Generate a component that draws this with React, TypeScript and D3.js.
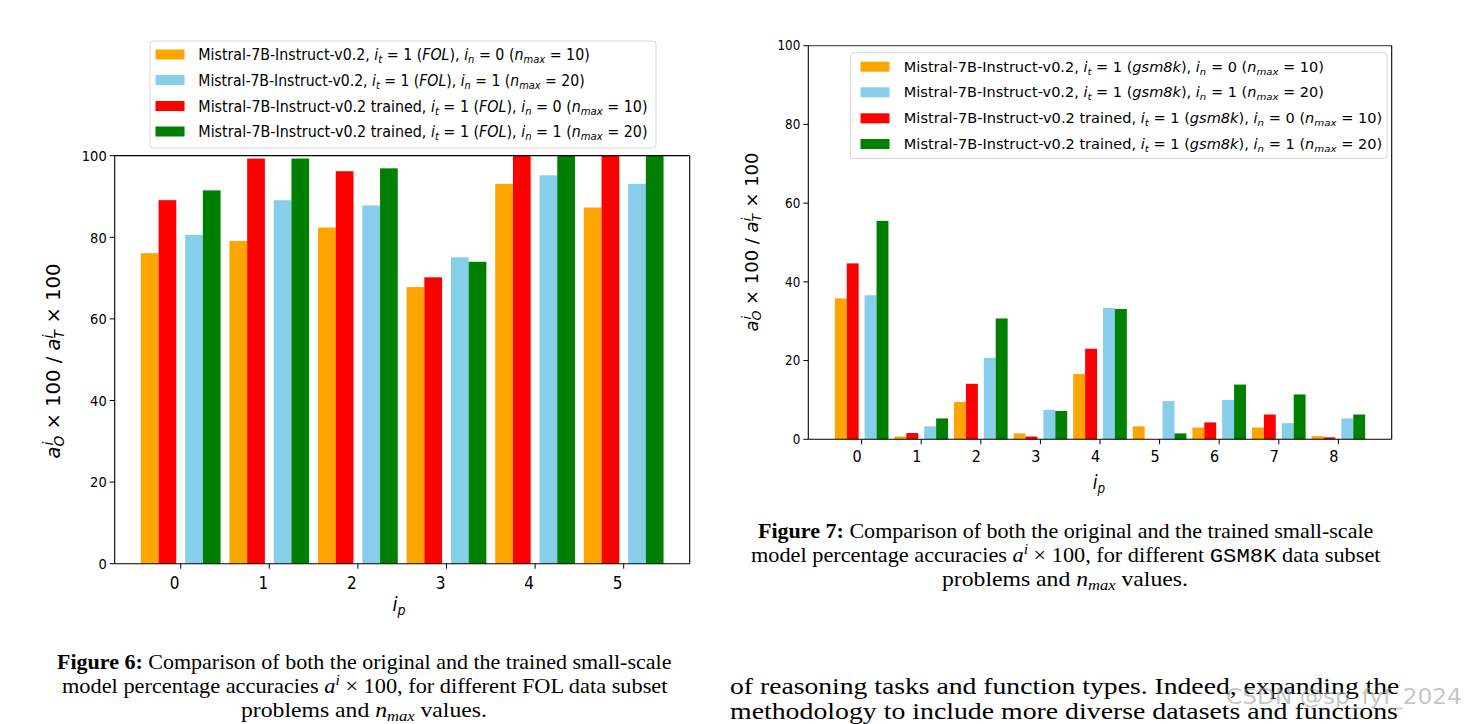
import React, { useLayoutEffect, useRef, useState } from 'react';
import * as d3 from 'd3';

// ---------- data ----------
const folProblems = [0, 1, 2, 3, 4, 5];
const folOriginal10 = [76.1, 79.1, 82.4, 67.8, 93.1, 87.3];
const folOriginal20 = [80.6, 89.1, 87.8, 75.1, 95.2, 93.1];
const folTrained10 = [89.1, 99.3, 96.2, 70.2, 100, 100];
const folTrained20 = [91.5, 99.3, 96.9, 74.0, 100, 100];

const gsmProblems = [0, 1, 2, 3, 4, 5, 6, 7, 8];
const gsmOriginal10 = [35.8, 0.7, 9.5, 1.5, 16.6, 3.3, 3.0, 3.0, 0.8];
const gsmOriginal20 = [36.6, 3.3, 20.7, 7.5, 33.4, 9.7, 10.0, 4.1, 5.3];
const gsmTrained10 = [44.7, 1.6, 14.1, 0.7, 23.0, 0, 4.3, 6.3, 0.5];
const gsmTrained20 = [55.5, 5.3, 30.7, 7.2, 33.1, 1.5, 13.9, 11.4, 6.3];

const yTickValues = [0, 20, 40, 60, 80, 100];

// series order in bars: orig n10, trained n10, orig n20, trained n20
const barOffsets = [-0.35, -0.15, 0.15, 0.35];
const barColors = ['#FFA500', '#FF0000', '#87CEEB', '#008000'];
const BAR_W = 0.2;

type Seg = { t: string; i?: boolean; sub?: boolean; sup?: boolean; b?: boolean; mono?: boolean; dx?: number };

const SANS = 'DejaVu Sans, sans-serif';
const SERIF = 'Liberation Serif, Times New Roman, serif';

function Rich({ segs, size }: { segs: Seg[]; size: number }) {
  return (
    <>
      {segs.map((s, k) => (
        <tspan
          key={k}
          fontStyle={s.i ? 'italic' : undefined}
          fontWeight={s.b ? 'bold' : undefined}
          fontFamily={s.mono ? 'Liberation Mono, DejaVu Sans Mono, monospace' : undefined}
          fontSize={s.sub || s.sup ? size * 0.7 : undefined}
          baselineShift={s.sub ? -size * 0.2 : s.sup ? size * 0.38 : undefined}
          dx={s.dx !== undefined ? s.dx : undefined}
        >
          {s.t}
        </tspan>
      ))}
    </>
  );
}

function Fit({ x, y, w, anchor = 'start', rot = 0, size, family, fill = '#000', children }: any) {
  const ref = useRef<SVGTextElement>(null);
  const [s, setS] = useState(1);
  useLayoutEffect(() => {
    if (ref.current) {
      const bw = ref.current.getBBox().width;
      if (bw > 0) setS(w / bw);
    }
  }, [w]);
  return (
    <text
      ref={ref}
      transform={`translate(${x},${y}) rotate(${rot}) scale(${s},1)`}
      textAnchor={anchor}
      fontSize={size}
      fontFamily={family}
      fill={fill}
    >
      {children}
    </text>
  );
}

function legendSegs(trained: boolean, ds: string, inVal: number, nmax: number): Seg[] {
  return [
    { t: `Mistral-7B-Instruct-v0.2${trained ? ' trained' : ''}, ` },
    { t: 'i', i: true },
    { t: 't', i: true, sub: true },
    { t: ' = 1 (' },
    { t: ds, i: true },
    { t: '), ' },
    { t: 'i', i: true },
    { t: 'n', i: true, sub: true },
    { t: ` = ${inVal} (` },
    { t: 'n', i: true },
    { t: 'max', i: true, sub: true },
    { t: ` = ${nmax})` },
  ];
}

const yLabelSegs = (size: number): Seg[] => [
  { t: 'a', i: true },
  { t: 'O', i: true, sub: true },
  { t: 'i', i: true, sup: true, dx: -size * 0.5 },
  { t: ' × 100 / ', dx: size * 0.3 },
  { t: 'a', i: true },
  { t: 'T', i: true, sub: true },
  { t: 'i', i: true, sup: true, dx: -size * 0.42 },
  { t: ' × 100', dx: size * 0.25 },
];

type PanelProps = {
  cats: number[];
  series: number[][]; // in bar order
  L: number; R: number; T: number; B: number;
  xTickSize: number; yTickSize: number; xTickBase: number; xTickShift: number;
  ylabel: { x: number; y: number; len: number; size: number };
  xlabel: { x: number; y: number; size: number };
  legend: { x0: number; y0: number; x1: number; y1: number; rows: number[]; patchX: number; textX: number; widths: number[]; size: number; segs: Seg[][]; colors: string[] };
  topStroke: string;
};

function Panel(p: PanelProps) {
  const n = p.cats.length;
  const span = n - 1 + 0.9;
  const m = 0.05 * span;
  const x = d3.scaleLinear().domain([-0.45 - m, n - 1 + 0.45 + m]).range([p.L, p.R]);
  const y = d3.scaleLinear().domain([0, 100]).range([p.B, p.T]);
  const sx = 0.9;
  return (
    <g>
      {p.series.map((vals, si) =>
        vals.map((v, ci) => {
          const c = p.cats[ci] + barOffsets[si];
          const x0 = x(c - BAR_W / 2);
          const x1 = x(c + BAR_W / 2);
          return (
            <rect key={`${si}-${ci}`} x={x0} y={y(v)} width={x1 - x0} height={y(0) - y(v)} fill={barColors[si]} />
          );
        })
      )}
      {/* spines */}
      <line x1={p.L} x2={p.R} y1={p.T} y2={p.T} stroke={p.topStroke} strokeWidth={1.2} />
      <line x1={p.L} x2={p.R} y1={p.B} y2={p.B} stroke="#000" strokeWidth={1.1} />
      <line x1={p.L} x2={p.L} y1={p.T} y2={p.B} stroke="#000" strokeWidth={1.1} />
      <line x1={p.R} x2={p.R} y1={p.T} y2={p.B} stroke="#000" strokeWidth={1.1} />
      {/* y ticks */}
      {yTickValues.map((t) => (
        <g key={`yt${t}`}>
          <line x1={p.L - 5} x2={p.L} y1={y(t)} y2={y(t)} stroke="#000" strokeWidth={1} />
          <text
            transform={`translate(${p.L - 8},${y(t) + p.yTickSize * 0.36}) scale(${sx},1)`}
            textAnchor="end"
            fontSize={p.yTickSize}
            fontFamily={SANS}
            fill="#000"
          >
            {t}
          </text>
        </g>
      ))}
      {/* x ticks */}
      {p.cats.map((c) => (
        <g key={`xt${c}`}>
          <line x1={x(c)} x2={x(c)} y1={p.B} y2={p.B + 5} stroke="#000" strokeWidth={1} />
          <text
            transform={`translate(${x(c) + p.xTickShift},${p.B + p.xTickBase}) scale(${sx},1)`}
            textAnchor="middle"
            fontSize={p.xTickSize}
            fontFamily={SANS}
            fill="#000"
          >
            {c}
          </text>
        </g>
      ))}
      {/* axis labels */}
      <Fit x={p.ylabel.x} y={p.ylabel.y} w={p.ylabel.len} anchor="middle" rot={-90} size={p.ylabel.size} family={SANS}>
        <Rich segs={yLabelSegs(p.ylabel.size)} size={p.ylabel.size} />
      </Fit>
      <text
        transform={`translate(${p.xlabel.x},${p.xlabel.y}) scale(${sx},1)`}
        textAnchor="middle"
        fontSize={p.xlabel.size}
        fontFamily={SANS}
      >
        <Rich segs={[{ t: 'i', i: true }, { t: 'p', i: true, sub: true }]} size={p.xlabel.size} />
      </text>
      {/* legend */}
      <rect
        x={p.legend.x0}
        y={p.legend.y0}
        width={p.legend.x1 - p.legend.x0}
        height={p.legend.y1 - p.legend.y0}
        rx={3}
        fill="#fff"
        fillOpacity={0.85}
        stroke="#d6d6d6"
        strokeWidth={1}
      />
      {p.legend.rows.map((ry, k) => (
        <g key={`lg${k}`}>
          <rect x={p.legend.patchX} y={ry - 5} width={29} height={10} fill={p.legend.colors[k]} />
          <Fit x={p.legend.textX} y={ry + p.legend.size * 0.37} w={p.legend.widths[k]} size={p.legend.size} family={SANS}>
            <Rich segs={p.legend.segs[k]} size={p.legend.size} />
          </Fit>
        </g>
      ))}
    </g>
  );
}

const legendColors = ['#FFA500', '#87CEEB', '#FF0000', '#008000'];

export default function App() {
  const capSize = 21;
  const bodySize = 24;
  return (
    <svg
      width={1465}
      height={724}
      style={{ position: 'absolute', left: 0, top: 0, background: '#fff' }}
      xmlns="http://www.w3.org/2000/svg"
    >
      <rect x={0} y={0} width={1465} height={724} fill="#fff" />
      <Panel
        cats={folProblems}
        series={[folOriginal10, folTrained10, folOriginal20, folTrained20]}
        L={114.7}
        R={689.7}
        T={155.7}
        B={563.7}
        xTickSize={17}
        yTickSize={14.5}
        xTickBase={25.5}
        xTickShift={-6}
        ylabel={{ x: 60, y: 361, len: 195, size: 19 }}
        xlabel={{ x: 399, y: 611, size: 20 }}
        topStroke="#000"
        legend={{
          x0: 150,
          y0: 41,
          x1: 656,
          y1: 148,
          rows: [54.5, 80, 106, 131.5],
          patchX: 155.5,
          textX: 198.3,
          widths: [391.7, 386.7, 449.7, 449.7],
          size: 15,
          colors: legendColors,
          segs: [
            legendSegs(false, 'FOL', 0, 10),
            legendSegs(false, 'FOL', 1, 20),
            legendSegs(true, 'FOL', 0, 10),
            legendSegs(true, 'FOL', 1, 20),
          ],
        }}
      />
      <Panel
        cats={gsmProblems}
        series={[gsmOriginal10, gsmTrained10, gsmOriginal20, gsmTrained20]}
        L={808.3}
        R={1391.7}
        T={45.7}
        B={439.3}
        xTickSize={16}
        yTickSize={13.3}
        xTickBase={22.5}
        xTickShift={-4.5}
        ylabel={{ x: 758, y: 242, len: 179, size: 17 }}
        xlabel={{ x: 1099, y: 489, size: 19 }}
        topStroke="#555"
        legend={{
          x0: 850.5,
          y0: 52.7,
          x1: 1387,
          y1: 158.5,
          rows: [66.7, 92.3, 118.3, 144],
          patchX: 860.5,
          textX: 903.8,
          widths: [420, 420, 478.7, 478.7],
          size: 13.7,
          colors: legendColors,
          segs: [
            legendSegs(false, 'gsm8k', 0, 10),
            legendSegs(false, 'gsm8k', 1, 20),
            legendSegs(true, 'gsm8k', 0, 10),
            legendSegs(true, 'gsm8k', 1, 20),
          ],
        }}
      />
      {/* Figure 6 caption */}
      <Fit x={57} y={669} w={615} size={capSize} family={SERIF}>
        <Rich segs={[{ t: 'Figure 6:', b: true }, { t: ' Comparison of both the original and the trained small-scale' }]} size={capSize} />
      </Fit>
      <Fit x={62} y={693} w={606} size={capSize} family={SERIF}>
        <Rich
          segs={[
            { t: 'model percentage accuracies ' },
            { t: 'a', i: true },
            { t: 'i', i: true, sup: true },
            { t: ' × 100, for different FOL data subset' },
          ]}
          size={capSize}
        />
      </Fit>
      <Fit x={241} y={717} w={246} size={capSize} family={SERIF}>
        <Rich segs={[{ t: 'problems and ' }, { t: 'n', i: true }, { t: 'max', i: true, sub: true }, { t: ' values.' }]} size={capSize} />
      </Fit>
      {/* Figure 7 caption */}
      <Fit x={758} y={538} w={616} size={capSize} family={SERIF}>
        <Rich segs={[{ t: 'Figure 7:', b: true }, { t: ' Comparison of both the original and the trained small-scale' }]} size={capSize} />
      </Fit>
      <Fit x={751} y={562} w={630} size={capSize} family={SERIF}>
        <Rich
          segs={[
            { t: 'model percentage accuracies ' },
            { t: 'a', i: true },
            { t: 'i', i: true, sup: true },
            { t: ' × 100, for different ' },
            { t: 'GSM8K', mono: true },
            { t: ' data subset' },
          ]}
          size={capSize}
        />
      </Fit>
      <Fit x={942} y={586} w={246} size={capSize} family={SERIF}>
        <Rich segs={[{ t: 'problems and ' }, { t: 'n', i: true }, { t: 'max', i: true, sub: true }, { t: ' values.' }]} size={capSize} />
      </Fit>
      {/* body text */}
      <Fit x={730} y={694} w={670} size={bodySize} family={SERIF}>
        of reasoning tasks and function types. Indeed, expanding the
      </Fit>
      <Fit x={730} y={719} w={668} size={bodySize} family={SERIF}>
        methodology to include more diverse datasets and functions
      </Fit>
      {/* watermark */}
      <Fit x={1226} y={704} w={236} size={22} family="DejaVu Sans, sans-serif" fill="rgba(160,160,160,0.6)">
        CSDN @sp_fyf_2024
      </Fit>
    </svg>
  );
}
